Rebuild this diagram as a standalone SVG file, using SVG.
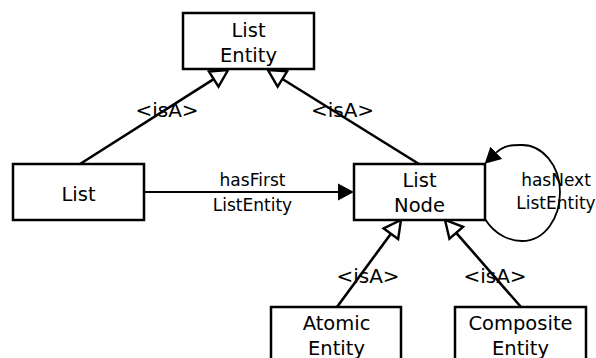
<svg xmlns="http://www.w3.org/2000/svg" width="596" height="358" viewBox="0 0 596 358">
  <style>
    .box { fill: #ffffff; stroke: #000000; stroke-width: 2.5; }
    .node-label { font-family: "DejaVu Sans", "Liberation Sans", sans-serif; font-size: 19.5px; fill: #000000; text-anchor: middle; }
    .edge-label { font-family: "DejaVu Sans", "Liberation Sans", sans-serif; font-size: 17px; fill: #000000; text-anchor: middle; }
    .isa-label { font-family: "DejaVu Sans", "Liberation Sans", sans-serif; font-size: 20px; fill: #000000; text-anchor: middle; }
    .isa { fill: none; stroke: #000000; stroke-width: 2.6; marker-end: url(#hollow); }
    .rel { fill: none; stroke: #000000; stroke-width: 1.8; marker-end: url(#solid); }
  </style>
  <defs>
    <!-- open triangle for generalisation; line ends at the triangle base -->
    <marker id="hollow" markerUnits="userSpaceOnUse" viewBox="-2 -11 21 22" refX="0" refY="0" markerWidth="21" markerHeight="22" orient="auto">
      <path d="M0,-9 L17,0 L0,9 Z" fill="#ffffff" stroke="#000000" stroke-width="2.4"/>
    </marker>
    <!-- filled triangle for associations -->
    <marker id="solid" markerUnits="userSpaceOnUse" viewBox="0 -9 17 18" refX="0" refY="0" markerWidth="17" markerHeight="18" orient="auto">
      <path d="M0,-8.5 L16,0 L0,8.5 Z" fill="#000000"/>
    </marker>
  </defs>

  <g id="connectors">
    <line class="isa" x1="80" y1="164" x2="213.7" y2="79.1"/>
    <line class="isa" x1="419" y1="164" x2="282.4" y2="79"/>
    <line class="isa" x1="337" y1="307" x2="390.9" y2="233.7"/>
    <line class="isa" x1="521" y1="307" x2="456.2" y2="232.8"/>
    <line class="rel" x1="144" y1="192" x2="338" y2="192"/>
    <path class="rel" d="M485,219 C495,235 510,241 522,241 C545,241 560,218 560,192 C560,165 542,145 522,145 C514,145 505,144.5 496.3,152.7"/>

    <text class="isa-label" x="167" y="117">&lt;isA&gt;</text>
    <text class="isa-label" x="342.5" y="117">&lt;isA&gt;</text>
    <text class="isa-label" x="368" y="283">&lt;isA&gt;</text>
    <text class="isa-label" x="495" y="283">&lt;isA&gt;</text>
    <text class="edge-label" x="252.5" y="186">hasFirst</text>
    <text class="edge-label" x="252.5" y="210.5">ListEntity</text>
    <text class="edge-label" x="556" y="186">hasNext</text>
    <text class="edge-label" x="556" y="208.5">ListEntity</text>
  </g>

  <g id="list-entity">
    <rect class="box" x="183" y="13" width="131" height="56"/>
    <text class="node-label" x="248.5" y="37">List</text>
    <text class="node-label" x="248.5" y="62">Entity</text>
  </g>

  <g id="list">
    <rect class="box" x="13" y="164" width="131" height="56"/>
    <text class="node-label" x="78.5" y="201">List</text>
  </g>

  <g id="list-node">
    <rect class="box" x="354" y="164" width="131" height="56"/>
    <text class="node-label" x="419.5" y="187">List</text>
    <text class="node-label" x="419.5" y="212">Node</text>
  </g>

  <g id="atomic-entity">
    <rect class="box" x="271" y="307" width="130" height="56"/>
    <text class="node-label" x="336.5" y="330">Atomic</text>
    <text class="node-label" x="336.5" y="355">Entity</text>
  </g>

  <g id="composite-entity">
    <rect class="box" x="455" y="307" width="131" height="56"/>
    <text class="node-label" x="520.5" y="330">Composite</text>
    <text class="node-label" x="520.5" y="355">Entity</text>
  </g>
</svg>
